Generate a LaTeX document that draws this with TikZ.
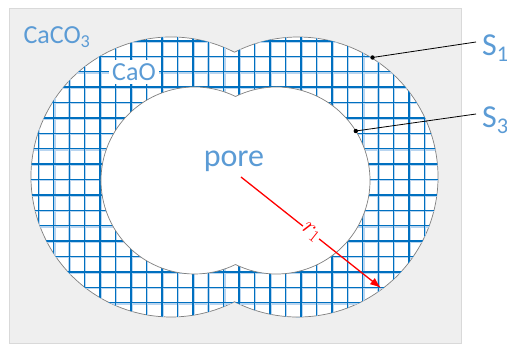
\documentclass[tikz,border=0pt]{standalone}
\usepackage{fontspec}
\setmainfont{Carlito}
\usetikzlibrary{arrows.meta}

\definecolor{txtblue}{RGB}{91,155,213}
\definecolor{gridblue}{RGB}{0,112,192}
\definecolor{gridhalo}{RGB}{185,213,240}
\definecolor{bggray}{RGB}{239,239,239}

\begin{document}
\begin{tikzpicture}[x=1pt,y=1pt,
    lbl/.style={text=txtblue,inner sep=0pt},
    rim/.style={draw=gray,line width=0.7pt},
    leader/.style={draw=black,line width=0.8pt},
    gridline/.style={line width=1.4pt,draw=gridblue}]
  \useasboundingbox (0,0) rectangle (507,345);
  \draw[fill=bggray,draw=gray!30] (9,2) rectangle (461,337);
  % angles where the two circles of each union meet
  \pgfmathsetmacro\aout{acos(63.5/140)}
  \pgfmathsetmacro\ain{acos(41/93.5)}
  % CaO shell with its grid
  \path[rim,fill=white] (171,168) ++(\aout:140)
    arc[start angle=\aout,end angle=360-\aout,radius=140]
    arc[start angle=180+\aout,end angle=540-\aout,radius=140] -- cycle;
  \begin{scope}
    \clip (171,168) ++(\aout:140)
      arc[start angle=\aout,end angle=360-\aout,radius=140]
      arc[start angle=180+\aout,end angle=540-\aout,radius=140] -- cycle;
    \foreach \k in {0,...,28}
      \draw[gridline,draw=gridhalo,line width=2.6pt] (23.35+15.45*\k,20) -- ++(0,300);
    \foreach \k in {0,...,19}
      \draw[gridline,draw=gridhalo,line width=2.6pt] (25,318.9-15.4*\k) -- ++(430,0);
    \foreach \k in {0,...,28}
      \draw[gridline] (22.85+15.45*\k,20) -- ++(0,300);
    \foreach \k in {0,...,19}
      \draw[gridline] (25,319.4-15.4*\k) -- ++(430,0);
  \end{scope}
  % the pore
  \path[rim,fill=white] (194.5,164.5) ++(\ain:93.5)
    arc[start angle=\ain,end angle=360-\ain,radius=93.5]
    arc[start angle=180+\ain,end angle=540-\ain,radius=93.5] -- cycle;

  \node[lbl,font=\fontsize{26}{30}\selectfont] (caco) at (57,308) {CaCO\textsubscript{3}};
  \node[lbl,fill=white,inner sep=3pt,font=\fontsize{26}{30}\selectfont] (cao) at (134,273) {CaO};
  \node[lbl,font=\fontsize{32}{36}\selectfont] (pore) at (234,184) {pore};
  \node[lbl,anchor=west,font=\fontsize{32}{36}\selectfont] (s1) at (482,297) {S\textsubscript{1}};
  \node[lbl,anchor=west,font=\fontsize{32}{36}\selectfont] (s3) at (482,225) {S\textsubscript{3}};

  \coordinate (s1dot) at (372.5,287.5);
  \coordinate (s3dot) at (355.8,214);
  \fill (s1dot) circle (2.2pt) (s3dot) circle (2.2pt);
  \draw[leader] (s1dot) -- ([xshift=-6pt,yshift=6pt]s1.west);
  \draw[leader] (s3dot) -- ([xshift=-6pt,yshift=6pt]s3.west);

  % radius of the shell
  \coordinate (c1) at (241,168);
  \coordinate (r1end) at (381,57);
  \draw[red,line width=1.3pt,-{Latex[length=11pt,width=8pt]}] (c1) -- (r1end)
    node[midway,sloped,fill=white,inner sep=0.5pt,text=red,font=\fontsize{26}{28}\selectfont] (r1) {$r_1$};
\end{tikzpicture}
\end{document}
